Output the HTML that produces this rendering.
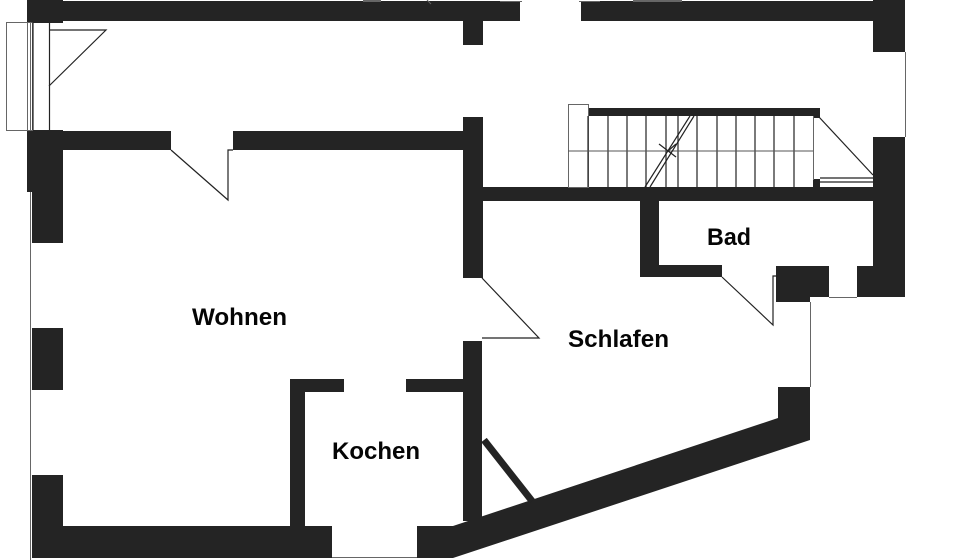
<!DOCTYPE html>
<html><head><meta charset="utf-8"><style>
html,body{margin:0;padding:0;background:#fff;}
svg{display:block;}
text{font-family:"Liberation Sans",Arial,sans-serif;font-weight:bold;font-size:24px;fill:#050505;}
</style></head><body>
<svg width="960" height="560" viewBox="0 0 960 560" xmlns="http://www.w3.org/2000/svg">
<g fill="#242424">
<rect x="27" y="0" width="36" height="23"/>
<rect x="63" y="1" width="457" height="20"/>
<rect x="463" y="21" width="20" height="24"/>
<rect x="581" y="1" width="294" height="20"/>
<rect x="873" y="0" width="32" height="52"/>
<rect x="873" y="137" width="32" height="160"/>
<rect x="27" y="130" width="36" height="62"/>
<rect x="32" y="192" width="31" height="51"/>
<rect x="63" y="131" width="108" height="19"/>
<rect x="233" y="131" width="230" height="19"/>
<rect x="463" y="117" width="20" height="161"/>
<rect x="482" y="187" width="393" height="14"/>
<rect x="640" y="201" width="19" height="76"/>
<rect x="640" y="265" width="82" height="12"/>
<rect x="776" y="266" width="34" height="36"/>
<rect x="810" y="266" width="19" height="31"/>
<rect x="857" y="266" width="48" height="31"/>
<rect x="32" y="328" width="31" height="62"/>
<rect x="32" y="475" width="31" height="52"/>
<rect x="32" y="526" width="300" height="32"/>
<rect x="290" y="379" width="15" height="147"/>
<rect x="290" y="379" width="54" height="13"/>
<rect x="406" y="379" width="57" height="13"/>
<rect x="463" y="341" width="19" height="180"/>
<polygon points="417,526 453,526 778,418 778,387 810,387 810,440 453,558 417,558"/>
<rect x="588" y="108" width="232" height="8"/>
<rect x="813" y="108" width="7" height="10"/>
<rect x="813" y="179" width="7" height="8"/>
</g>
<line x1="484" y1="440" x2="532" y2="501" stroke="#242424" stroke-width="7"/>
<!-- thin outlines -->
<g fill="none" stroke="#666" stroke-width="1">
<line x1="30.5" y1="192" x2="30.5" y2="560"/>
<line x1="905.5" y1="52" x2="905.5" y2="137"/>
<line x1="810.5" y1="302" x2="810.5" y2="387"/>
<line x1="829" y1="297.5" x2="857" y2="297.5"/>
<line x1="332" y1="557.5" x2="417" y2="557.5"/>
<rect x="6.5" y="22.5" width="26" height="108"/>
<line x1="27.5" y1="22" x2="27.5" y2="130"/>
<line x1="30.5" y1="22" x2="30.5" y2="130"/>
<line x1="813.5" y1="116" x2="813.5" y2="180"/>
<rect x="568.5" y="104.5" width="20" height="83"/>
<line x1="363" y1="1" x2="381" y2="1" stroke-width="2"/>
<line x1="633" y1="1" x2="682" y2="1" stroke-width="2"/>
<line x1="427" y1="0" x2="431" y2="4"/>
<line x1="579" y1="1.5" x2="600" y2="1.5"/>
<line x1="500" y1="1.5" x2="522" y2="1.5"/>
</g>
<g fill="none" stroke="#222" stroke-width="1.2">
<line x1="49.5" y1="22" x2="49.5" y2="130"/>
<line x1="33" y1="22" x2="33" y2="130"/>
<polyline points="49,30 106,30 49,86"/>
<polyline points="171,150 228,200 228,150 233,150"/>
<polyline points="482,278 539,338 482,338"/>
<polyline points="722,277 773,325 773,276 778,276"/>
<line x1="819" y1="117" x2="873" y2="175"/>
<line x1="820" y1="178" x2="873" y2="178"/>
<line x1="820" y1="182" x2="873" y2="182"/>
</g>
<!-- stair treads -->
<g stroke="#333" stroke-width="1.3">
<line x1="588" y1="116" x2="588" y2="187"/>
<line x1="608" y1="116" x2="608" y2="187"/>
<line x1="627" y1="116" x2="627" y2="187"/>
<line x1="646" y1="116" x2="646" y2="187"/>
<line x1="666" y1="116" x2="666" y2="187"/>
<line x1="678" y1="116" x2="678" y2="187"/>
<line x1="697" y1="116" x2="697" y2="187"/>
<line x1="717" y1="116" x2="717" y2="187"/>
<line x1="736" y1="116" x2="736" y2="187"/>
<line x1="755" y1="116" x2="755" y2="187"/>
<line x1="774" y1="116" x2="774" y2="187"/>
<line x1="794" y1="116" x2="794" y2="187"/>
<line x1="568" y1="151" x2="813" y2="151" stroke="#555" stroke-width="1"/>
</g>
<g stroke="#222" stroke-width="1.2" fill="none">
<line x1="645" y1="187" x2="690" y2="116"/>
<line x1="650" y1="187" x2="694" y2="116"/>
<line x1="659" y1="144" x2="676" y2="157"/>
<line x1="676" y1="144" x2="668" y2="151"/>
</g>
<text x="192" y="325" textLength="95" lengthAdjust="spacingAndGlyphs">Wohnen</text>
<text x="568" y="347" textLength="101" lengthAdjust="spacingAndGlyphs">Schlafen</text>
<text x="707" y="245" textLength="44" lengthAdjust="spacingAndGlyphs">Bad</text>
<text x="332" y="459" textLength="88" lengthAdjust="spacingAndGlyphs">Kochen</text>
</svg>
</body></html>
